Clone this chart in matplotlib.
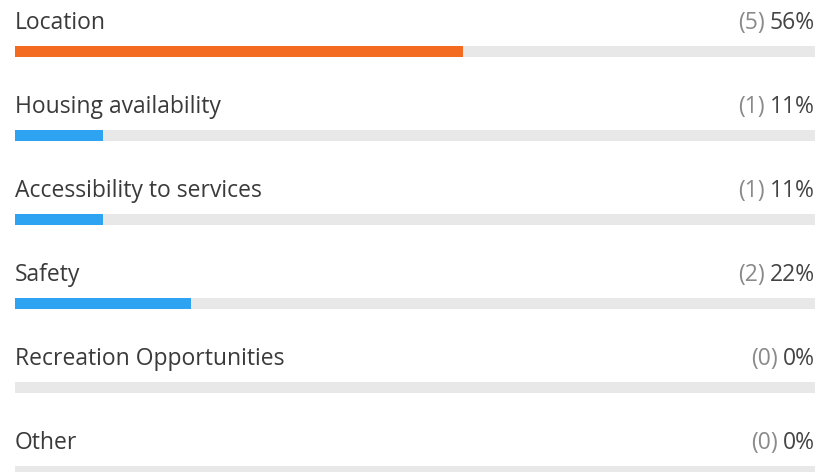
import matplotlib
matplotlib.use("Agg")
import matplotlib.pyplot as plt

# ---------------------------------------------------------
# Data
# ---------------------------------------------------------
categories = [
    "Location",
    "Housing availability",
    "Accessibility to services",
    "Safety",
    "Recreation Opportunities",
    "Other",
]
counts = [5, 1, 1, 2, 0, 0]
percents = [56, 11, 11, 22, 0, 0]
bar_colors = ["#F26B21", "#2EA3F2", "#2EA3F2", "#2EA3F2", "#2EA3F2", "#2EA3F2"]

# ---------------------------------------------------------
# Layout (pixels)
# ---------------------------------------------------------
W, H = 823, 472
left, track_w = 15, 800
row_gap = 84
bar_top0, bar_h = 46, 11
text_base0 = 29
font = "Open Sans"
fsize = 16.5

fig = plt.figure(figsize=(W / 100, H / 100), dpi=100)
ax = fig.add_axes([0, 0, 1, 1])
ax.set_xlim(0, W)
ax.set_ylim(H, 0)
ax.axis("off")

tops = [bar_top0 + i * row_gap for i in range(len(categories))]

# grey tracks + filled bars, in the same pixel scale (fraction of track width)
ax.barh(tops, [track_w] * len(tops), left=left, height=bar_h,
        align="edge", color="#E8E8E8", linewidth=0)
ax.barh(tops, [p / 100 * track_w for p in percents], left=left, height=bar_h,
        align="edge", color=bar_colors, linewidth=0)

renderer = fig.canvas.get_renderer()
for i, (cat, n, p) in enumerate(zip(categories, counts, percents)):
    yb = text_base0 + i * row_gap
    ax.text(left, yb, cat, ha="left", va="baseline", fontsize=fsize,
            family=font, color="#3A3A3A")
    t = ax.text(left + track_w, yb, f"{p}%", ha="right", va="baseline",
                fontsize=fsize, family=font, color="#444444")
    bb = t.get_window_extent(renderer)
    x_px = ax.transData.inverted().transform((bb.x0, 0))[0]
    ax.text(x_px - 5, yb, f"({n})", ha="right", va="baseline",
            fontsize=fsize, family=font, color="#8A8A8A")

fig.savefig("out.png", dpi=100)
